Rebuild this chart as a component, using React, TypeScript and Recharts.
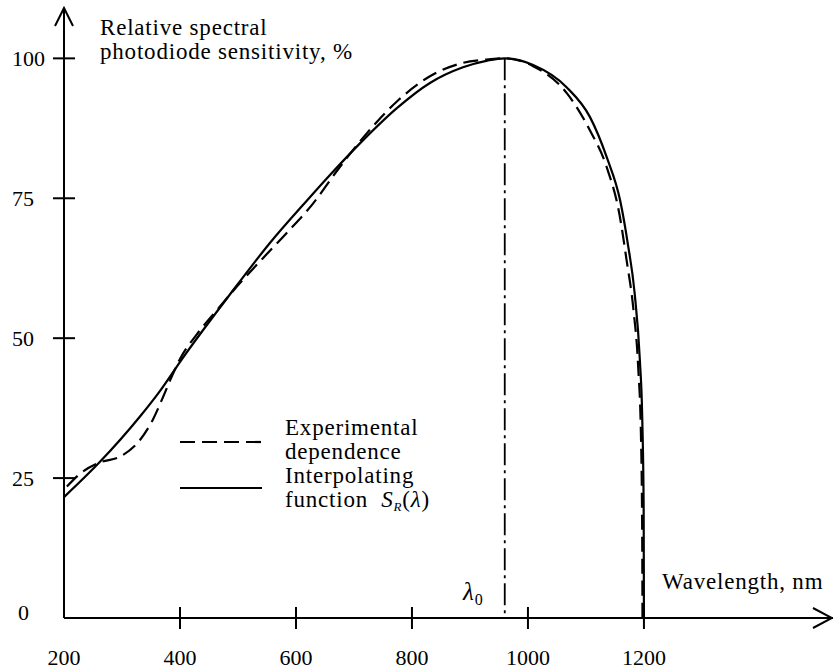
import React from "react";
import { LineChart, Line, XAxis, YAxis, ReferenceLine } from "recharts";

// axis ticks
const wavelengthTicks = [200, 400, 600, 800, 1000, 1200];
const sensitivityTicks = [0, 25, 50, 75, 100];
const peakWavelength = 960;

// interpolating function S_R(lambda)
const interpLambda = [200, 262, 331, 365, 405, 486, 555, 619, 659, 715, 774, 831, 888, 930, 960, 1009, 1067, 1107, 1136, 1159, 1172, 1184, 1193, 1197, 1199.5, 1200];
const interpS = [21.6, 27.9, 36.0, 40.5, 46.5, 57.8, 67.0, 74.6, 79.2, 85.3, 91.1, 95.6, 98.4, 99.6, 100, 98.8, 94.8, 89.5, 82.3, 74.6, 67, 58, 46, 36, 20, 0];

// experimental dependence
const expLambda = [205, 228, 262, 296, 331, 353, 370, 386, 400, 430, 470, 503, 543, 584, 629, 675, 722, 774, 831, 888, 929, 960, 1009, 1067, 1107, 1136, 1158, 1170, 1182, 1190, 1195, 1197, 1197.5];
const expS = [23.5, 25.8, 27.8, 28.8, 31.8, 35.4, 39.3, 43.2, 46.3, 50.8, 55.8, 59.8, 64.3, 68.8, 74.0, 80.5, 86.6, 92.3, 96.8, 99.2, 99.8, 100, 98.6, 93.8, 87.1, 80.5, 72, 64, 55, 45, 32, 15, 0];

const interpData = interpLambda.map((l, i) => ({ lambda: l, s: interpS[i] }));
const expData = expLambda.map((l, i) => ({ lambda: l, s: expS[i] }));

const serif =
  "'Liberation Serif', 'Times New Roman', Times, Tinos, 'Noto Serif', 'DejaVu Serif', serif";

const XTick = (props: any) => {
  const { x, y, payload } = props;
  return (
    <g>
      {payload.value !== 200 && (
        <line x1={x} x2={x} y1={y - 11} y2={y + 11} stroke="#000" strokeWidth={2} />
      )}
      <text x={x} y={y + 39} textAnchor="middle" dominantBaseline="central" fontFamily={serif} fontSize={22} fill="#000">
        {payload.value}
      </text>
    </g>
  );
};

const YTick = (props: any) => {
  const { x, y, payload } = props;
  const zero = payload.value === 0;
  return (
    <g>
      {!zero && <line x1={x - 11} x2={x + 11} y1={y} y2={y} stroke="#000" strokeWidth={2} />}
      <text x={zero ? x - 46 : x - 52} y={zero ? y - 6 : y} textAnchor="start" dominantBaseline="central" fontFamily={serif} fontSize={22} fill="#000">
        {payload.value}
      </text>
    </g>
  );
};

const label: React.CSSProperties = {
  position: "absolute",
  fontFamily: serif,
  fontSize: 23,
  letterSpacing: 0.8,
  lineHeight: "24px",
  whiteSpace: "nowrap",
  color: "#000",
};

export default function App() {
  return (
    <div style={{ position: "absolute", left: 0, top: 0, width: 833, height: 670, background: "#fff", fontFamily: serif }}>
      <LineChart width={833} height={670} margin={{ top: 8, right: 0, bottom: 0, left: 0 }}>
        <XAxis
          dataKey="lambda"
          type="number"
          domain={[200, 1526]}
          allowDataOverflow
          ticks={wavelengthTicks}
          interval={0}
          height={52}
          tickSize={0}
          tickMargin={0}
          tickLine={false}
          tick={<XTick />}
          axisLine={{ stroke: "#000", strokeWidth: 2 }}
        />
        <YAxis
          type="number"
          domain={[0, 109]}
          allowDataOverflow
          ticks={sensitivityTicks}
          interval={0}
          width={64}
          tickSize={0}
          tickMargin={0}
          tickLine={false}
          tick={<YTick />}
          axisLine={{ stroke: "#000", strokeWidth: 2 }}
        />
        <ReferenceLine
          segment={[
            { x: peakWavelength, y: 100 },
            { x: peakWavelength, y: 0 },
          ]}
          stroke="#000"
          strokeWidth={1.8}
          strokeDasharray="22 5 3 5"
        />
        <Line data={expData} dataKey="s" type="monotone" stroke="#000" strokeWidth={2.2} strokeDasharray="15 7" dot={false} isAnimationActive={false} />
        <Line data={interpData} dataKey="s" type="monotone" stroke="#000" strokeWidth={2.2} dot={false} isAnimationActive={false} />
      </LineChart>

      {/* axis arrow heads and legend samples */}
      <svg width={833} height={670} style={{ position: "absolute", left: 0, top: 0, pointerEvents: "none" }}>
        <path d="M55,26 L64,8 L73,26" fill="none" stroke="#000" strokeWidth={2} />
        <path d="M813,608 L832,618 L813,628" fill="none" stroke="#000" strokeWidth={2} />
        <line x1={180} x2={262} y1={442} y2={442} stroke="#000" strokeWidth={2.2} strokeDasharray="15 7" />
        <line x1={180} x2={262} y1={488} y2={488} stroke="#000" strokeWidth={2.2} />
      </svg>

      <div style={{ ...label, left: 100, top: 16 }}>
        Relative spectral
        <br />
        photodiode sensitivity, %
      </div>
      <div style={{ ...label, left: 285, top: 416 }}>
        Experimental
        <br />
        dependence
      </div>
      <div style={{ ...label, left: 285, top: 464 }}>
        Interpolating
        <br />
        function&nbsp; <i>S</i>
        <sub style={{ fontSize: 13, fontStyle: "italic", verticalAlign: "-4px", lineHeight: 0 }}>R</sub>(<i>λ</i>)
      </div>
      <div style={{ ...label, left: 662, top: 570 }}>Wavelength, nm</div>
      <div style={{ ...label, left: 463, top: 580, fontSize: 25 }}>
        <i>λ</i>
        <sub style={{ fontSize: 16, verticalAlign: "-5px", lineHeight: 0 }}>0</sub>
      </div>
    </div>
  );
}
